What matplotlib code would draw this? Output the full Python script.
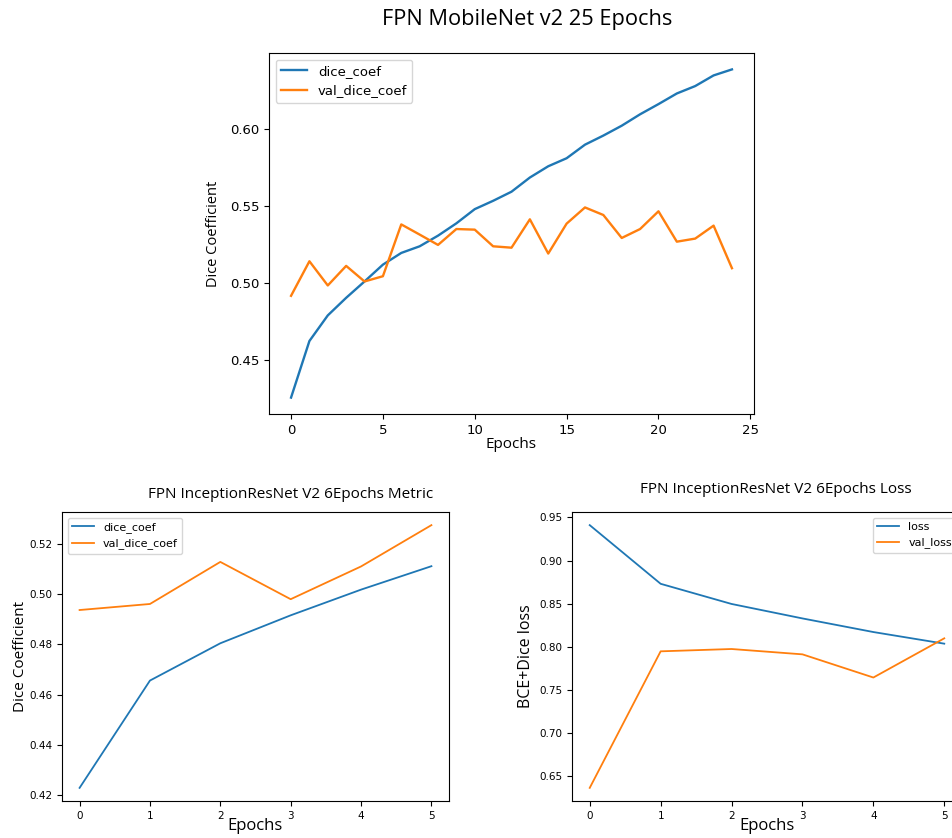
import numpy as np
import matplotlib
matplotlib.use('Agg')
import matplotlib.pyplot as plt

# ---- data ----
epochs25 = list(range(25))
dice25 = [0.4256, 0.4623, 0.4789, 0.4903, 0.5009, 0.5118, 0.5194, 0.5237, 0.5306,
          0.5386, 0.5478, 0.5532, 0.5591, 0.5683, 0.5756, 0.5808, 0.5896, 0.5955,
          0.6019, 0.6093, 0.6159, 0.6228, 0.6276, 0.6345, 0.6384]
val_dice25 = [0.4916, 0.5140, 0.4983, 0.5110, 0.5009, 0.5043, 0.5379, 0.5313, 0.5246,
              0.5349, 0.5345, 0.5237, 0.5228, 0.5412, 0.5190, 0.5384, 0.5489, 0.5440,
              0.5291, 0.5349, 0.5464, 0.5267, 0.5287, 0.5371, 0.5095]

epochs6 = list(range(6))
dice6 = [0.4230, 0.4656, 0.4804, 0.4915, 0.5017, 0.5110]
val_dice6 = [0.4936, 0.4960, 0.5127, 0.4979, 0.5109, 0.5273]
loss6 = [0.9411, 0.8730, 0.8496, 0.8328, 0.8170, 0.8035]
val_loss6 = [0.6361, 0.7946, 0.7973, 0.7911, 0.7642, 0.8097]

label_font = 'Open Sans'
W, H = 953, 838

fig = plt.figure(figsize=(W / 100, H / 100), dpi=100)
fig.patch.set_facecolor('white')

def box(l, t, r, b):
    return [l / W, 1 - b / H, (r - l) / W, (b - t) / H]

########## top: MobileNet v2 ##########
ax1 = fig.add_axes(box(269, 53, 754, 414))
ax1.plot(epochs25, dice25, label='dice_coef', linewidth=1.7)
ax1.plot(epochs25, val_dice25, label='val_dice_coef', linewidth=1.7)
ax1.set_xticks([0, 5, 10, 15, 20, 25])
ax1.set_yticks([0.45, 0.50, 0.55, 0.60])
ax1.tick_params(labelsize=9.5)
ax1.set_title('FPN MobileNet v2 25 Epochs', fontsize=15.7, family=label_font, pad=20, x=0.533)
ax1.set_xlabel('Epochs', fontsize=11, family=label_font, labelpad=0)
ax1.set_ylabel('Dice Coefficient', fontsize=10.5, family=label_font, labelpad=6)
ax1.legend(loc='upper left', fontsize=9.5)

########## bottom left: metric ##########
ax2 = fig.add_axes(box(62, 512, 449, 801))
ax2.plot(epochs6, dice6, label='dice_coef', linewidth=1.3)
ax2.plot(epochs6, val_dice6, label='val_dice_coef', linewidth=1.3)
ax2.tick_params(labelsize=7.5)
ax2.set_title('FPN InceptionResNet V2 6Epochs Metric', fontsize=11, family=label_font, pad=10, x=0.592)
ax2.set_xlabel('Epochs', fontsize=12, family=label_font, labelpad=-2)
ax2.set_ylabel('Dice Coefficient', fontsize=11, family=label_font, labelpad=1)
ax2.legend(loc='upper left', fontsize=8)

########## bottom right: loss ##########
ax3 = fig.add_axes(box(572, 512, 962, 801))
ax3.plot(epochs6, loss6, label='loss', linewidth=1.3)
ax3.plot(epochs6, val_loss6, label='val_loss', linewidth=1.3)
ax3.tick_params(labelsize=7.5)
ax3.set_title('FPN InceptionResNet V2 6Epochs Loss', fontsize=11, family=label_font, pad=14, x=0.523)
ax3.set_xlabel('Epochs', fontsize=12, family=label_font, labelpad=-2)
ax3.set_ylabel('BCE+Dice loss', fontsize=11.5, family=label_font)
ax3.legend(loc='upper right', fontsize=8)

fig.savefig('out.png', dpi=100)
